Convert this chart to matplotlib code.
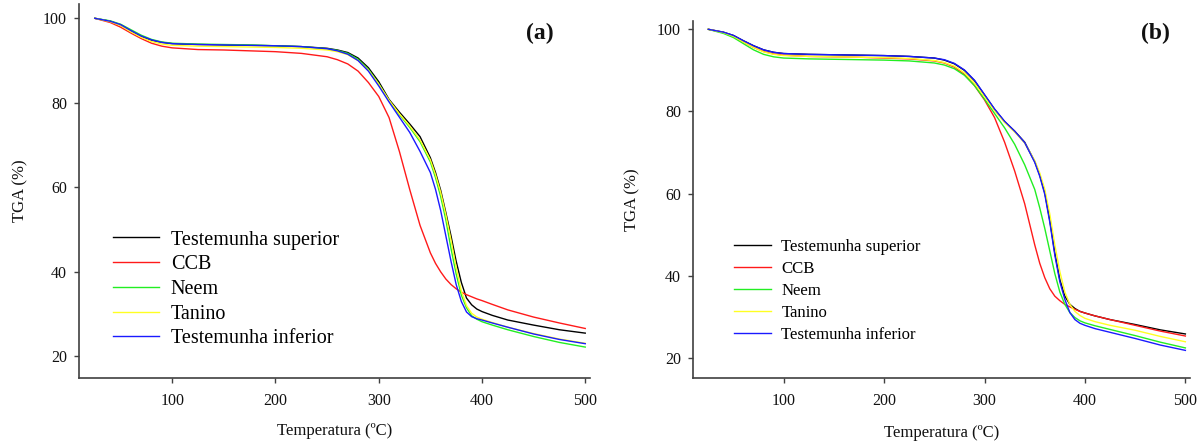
import matplotlib
matplotlib.use("Agg")
import matplotlib.pyplot as plt

plt.rcParams['font.family'] = ['Liberation Serif', 'DejaVu Serif']

temps = [25, 40, 50, 60, 70, 80, 90, 100, 125, 150, 175, 200, 225, 250, 260, 270, 280, 290,
         300, 310, 320, 330, 340, 350, 355, 360, 365, 370, 375, 380, 385, 390, 395, 400,
         410, 425, 450, 475, 500]

series_names = ["Testemunha superior", "CCB", "Neem", "Tanino", "Testemunha inferior"]
series_colors = ["#000000", "#ff1a1a", "#22ee22", "#ffff22", "#1a1aff"]

# Panel (a)
a_sup = [100.0, 99.3, 98.4, 97.0, 95.7, 94.8, 94.3, 94.0, 93.8, 93.7, 93.6, 93.5, 93.3, 92.9, 92.5, 91.9, 90.6, 88.3,
         85.0, 80.8, 77.8, 75.0, 72.0, 67.0, 63.5, 59.3, 54.0, 48.5, 42.5, 37.5, 33.8, 32.2, 31.2, 30.6,
         29.7, 28.6, 27.4, 26.3, 25.5]
a_ccb = [100.0, 99.0, 97.9, 96.5, 95.2, 94.1, 93.4, 93.0, 92.6, 92.5, 92.3, 92.1, 91.7, 90.9, 90.2, 89.2, 87.5, 84.8,
         81.5, 76.5, 68.5, 59.5, 51.0, 44.5, 42.0, 40.0, 38.3, 37.0, 36.0, 35.2, 34.6, 34.1, 33.6, 33.2,
         32.3, 31.0, 29.3, 27.9, 26.6]
a_neem = [100.0, 99.4, 98.6, 97.3, 96.0, 95.0, 94.4, 94.1, 93.9, 93.8, 93.7, 93.5, 93.3, 92.8, 92.4, 91.7, 90.3, 87.9,
          84.5, 80.5, 77.2, 74.2, 70.8, 66.0, 62.3, 57.8, 52.3, 45.5, 39.5, 34.5, 31.5, 29.6, 28.8, 28.2,
          27.4, 26.3, 24.7, 23.3, 22.2]
a_tan = [100.0, 99.2, 98.3, 96.8, 95.5, 94.5, 93.9, 93.6, 93.4, 93.3, 93.2, 93.1, 92.9, 92.5, 92.1, 91.4, 90.0, 87.7,
         84.4, 80.6, 77.4, 74.5, 71.2, 66.5, 63.0, 58.8, 53.5, 47.5, 41.0, 35.5, 32.0, 30.2, 29.3, 28.8,
         28.0, 26.9, 25.4, 24.1, 23.1]
a_inf = [100.0, 99.3, 98.5, 97.1, 95.8, 94.9, 94.3, 94.0, 93.8, 93.7, 93.6, 93.5, 93.3, 92.8, 92.3, 91.5, 90.0, 87.5,
         84.0, 80.2, 76.6, 73.0, 68.5, 63.5, 59.5, 54.5, 48.5, 42.5, 37.0, 33.0, 30.5, 29.4, 28.9, 28.6,
         27.9, 26.9, 25.3, 24.0, 23.0]

# Panel (b)
b_sup = [100.0, 99.3, 98.5, 97.2, 96.0, 95.0, 94.4, 94.1, 93.9, 93.8, 93.7, 93.6, 93.4, 93.0, 92.5, 91.6, 90.0, 87.5,
         84.0, 80.5, 77.5, 75.2, 72.5, 67.8, 64.5, 60.2, 53.5, 45.5, 39.0, 35.0, 33.0, 32.0, 31.3, 30.9,
         30.2, 29.3, 28.1, 26.8, 25.8]
b_ccb = [100.0, 99.2, 98.3, 96.9, 95.6, 94.6, 94.0, 93.7, 93.4, 93.3, 93.2, 93.0, 92.8, 92.3, 91.8, 90.8, 89.0, 86.3,
         82.8, 78.5, 72.5, 65.5, 57.5, 47.5, 43.0, 39.5, 36.8, 35.0, 33.9, 33.0, 32.4, 31.8, 31.3, 30.9,
         30.2, 29.3, 27.9, 26.5, 25.3]
b_neem = [100.0, 99.0, 98.0, 96.5, 95.0, 93.9, 93.3, 93.0, 92.8, 92.7, 92.6, 92.5, 92.3, 91.8, 91.3, 90.4, 88.8, 86.3,
          83.0, 79.5, 76.0, 72.0, 67.0, 61.0, 56.5, 51.5, 46.0, 40.5, 36.0, 33.0, 31.0, 29.8, 29.0, 28.5,
          27.8, 26.9, 25.4, 23.8, 22.4]
b_tan = [100.0, 99.2, 98.3, 96.9, 95.6, 94.5, 93.9, 93.6, 93.4, 93.3, 93.2, 93.1, 92.9, 92.4, 91.9, 91.0, 89.4, 86.9,
         83.6, 80.2, 77.3, 75.0, 72.3, 68.0, 65.0, 61.0, 55.0, 47.5, 41.0, 36.0, 33.0, 31.3, 30.3, 29.6,
         28.8, 27.9, 26.7, 25.2, 23.9]
b_inf = [100.0, 99.3, 98.5, 97.2, 96.0, 95.0, 94.4, 94.1, 93.9, 93.8, 93.7, 93.6, 93.4, 93.0, 92.6, 91.7, 90.1, 87.6,
         84.1, 80.6, 77.6, 75.2, 72.4, 67.6, 64.2, 59.8, 53.0, 45.0, 38.5, 34.2, 31.0, 29.3, 28.4, 27.9,
         27.1, 26.2, 24.7, 23.1, 21.8]

panels = [
    dict(data=[a_sup, a_ccb, a_neem, a_tan, a_inf], tag="(a)",
         rect=[0.06586, 0.14977, 0.42417, 0.84234], ylim=(15, 103.5),
         leg_anchor=(0.0942, 0.4810), leg_size=14.5, leg_space=0.28, tag_pos=(0.4485, 0.9257),
         ylabel_x=-0.10, xlabel_y=-0.122),
    dict(data=[b_sup, b_ccb, b_neem, b_tan, b_inf], tag="(b)",
         rect=[0.57583, 0.14797, 0.41254, 0.80450], ylim=(15, 102),
         leg_anchor=(0.6093, 0.4620), leg_size=12.1, leg_space=0.36, tag_pos=(0.9593, 0.9257),
         ylabel_x=-0.107, xlabel_y=-0.131),
]

fig = plt.figure(figsize=(12.04, 4.44), dpi=100)
spine_col = "#404040"

for p in panels:
    ax = fig.add_axes(p["rect"])
    for vals, name, col in zip(p["data"], series_names, series_colors):
        ax.plot(temps, vals, color=col, lw=1.0, label=name)
    ax.set_xlim(10, 504.6)
    ax.set_ylim(*p["ylim"])
    ax.set_xticks([100, 200, 300, 400, 500])
    ax.set_yticks([20, 40, 60, 80, 100])
    for s in ("top", "right"):
        ax.spines[s].set_visible(False)
    for s in ("left", "bottom"):
        ax.spines[s].set_color(spine_col)
        ax.spines[s].set_linewidth(1.2)
    ax.tick_params(direction="out", length=3.8, width=1.0, color=spine_col,
                   labelsize=11.5, labelcolor="#111111")
    ax.tick_params(axis="x", pad=7)
    ax.tick_params(axis="y", pad=5)
    ax.set_xlabel("Temperatura (ºC)", fontsize=12, color="#111111")
    ax.set_ylabel("TGA (%)", fontsize=12, color="#111111")
    ax.yaxis.set_label_coords(p["ylabel_x"], 0.5)
    ax.xaxis.set_label_coords(0.5, p["xlabel_y"])
    ax.legend(loc="upper left", bbox_to_anchor=p["leg_anchor"], bbox_transform=fig.transFigure,
              frameon=False, fontsize=p["leg_size"], handlelength=2.25, handletextpad=0.6,
              labelspacing=p["leg_space"], borderpad=0, borderaxespad=0)
    fig.text(p["tag_pos"][0], p["tag_pos"][1], p["tag"], fontsize=17, fontweight="bold",
             ha="center", va="center", color="#111111")

fig.savefig("out.png", dpi=100, facecolor="white")
